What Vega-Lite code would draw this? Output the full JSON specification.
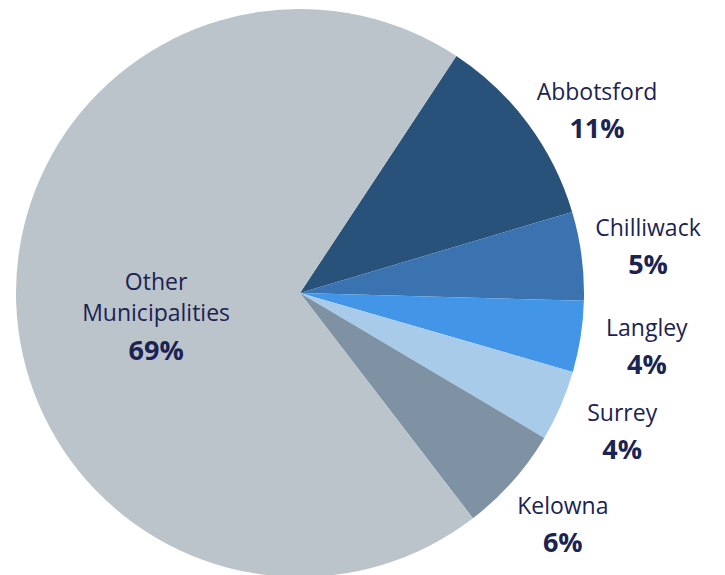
{
  "$schema": "https://vega.github.io/schema/vega-lite/v6.json",
  "width": 600,
  "height": 560,
  "autosize": "none",
  "padding": {"left": 0, "top": 13, "right": 125, "bottom": 2},
  "background": "white",
  "config": {"view": {"stroke": null}},
  "data": {"values": [
    {"name": "Abbotsford", "value": 11, "pct": "11%", "order": 1},
    {"name": "Chilliwack", "value": 5, "pct": "5%", "order": 2},
    {"name": "Langley", "value": 4, "pct": "4%", "order": 3},
    {"name": "Surrey", "value": 4, "pct": "4%", "order": 4},
    {"name": "Kelowna", "value": 6, "pct": "6%", "order": 5},
    {"name": "Other Municipalities", "value": 69, "pct": "69%", "order": 6}
  ]},
  "encoding": {
    "theta": {"field": "value", "type": "quantitative", "stack": true, "scale": {"range": [0.583, 6.866]}},
    "order": {"field": "order", "type": "ordinal"},
    "detail": {"field": "name", "type": "nominal"}
  },
  "layer": [
    {
      "mark": {"type": "arc", "outerRadius": 284, "stroke": null},
      "encoding": {
        "color": {"field": "name", "type": "nominal", "legend": null,
          "scale": {"domain": ["Abbotsford", "Chilliwack", "Langley", "Surrey", "Kelowna", "Other Municipalities"],
                    "range": ["#29527a", "#3a73b0", "#4395e8", "#a9cbea", "#7f92a3", "#bcc4cb"]}}
      }
    },
    {
      "mark": {"type": "text", "radius": 350, "dy": -18, "dx": 1, "font": "Open Sans", "fontSize": 23, "color": "#1b2352", "baseline": "middle", "align": "center"},
      "encoding": {
        "text": {"field": "name"},
        "opacity": {"condition": {"test": "datum.name === 'Abbotsford' || datum.name === 'Other Municipalities'", "value": 0}, "value": 1}
      }
    },
    {
      "mark": {"type": "text", "radius": 350, "dy": 19, "dx": 1, "font": "Open Sans", "fontSize": 27, "fontWeight": "bold", "color": "#1b2352", "baseline": "middle", "align": "center"},
      "encoding": {
        "text": {"field": "pct"},
        "opacity": {"condition": {"test": "datum.name === 'Abbotsford' || datum.name === 'Other Municipalities'", "value": 0}, "value": 1}
      }
    },
    {
      "mark": {"type": "text", "radius": 350, "dx": 16, "dy": 9, "font": "Open Sans", "fontSize": 23, "color": "#1b2352", "baseline": "middle", "align": "center"},
      "encoding": {
        "text": {"field": "name"},
        "opacity": {"condition": {"test": "datum.name === 'Abbotsford'", "value": 1}, "value": 0}
      }
    },
    {
      "mark": {"type": "text", "radius": 350, "dx": 16, "dy": 46, "font": "Open Sans", "fontSize": 27, "fontWeight": "bold", "color": "#1b2352", "baseline": "middle", "align": "center"},
      "encoding": {
        "text": {"field": "pct"},
        "opacity": {"condition": {"test": "datum.name === 'Abbotsford'", "value": 1}, "value": 0}
      }
    },
    {
      "mark": {"type": "text", "radius": 144, "dy": -15, "lineBreak": " ", "lineHeight": 31, "font": "Open Sans", "fontSize": 23, "color": "#1b2352", "baseline": "middle", "align": "center"},
      "encoding": {
        "text": {"field": "name"},
        "opacity": {"condition": {"test": "datum.name === 'Other Municipalities'", "value": 1}, "value": 0}
      }
    },
    {
      "mark": {"type": "text", "radius": 144, "dy": 54, "font": "Open Sans", "fontSize": 27, "fontWeight": "bold", "color": "#1b2352", "baseline": "middle", "align": "center"},
      "encoding": {
        "text": {"field": "pct"},
        "opacity": {"condition": {"test": "datum.name === 'Other Municipalities'", "value": 1}, "value": 0}
      }
    }
  ]
}
